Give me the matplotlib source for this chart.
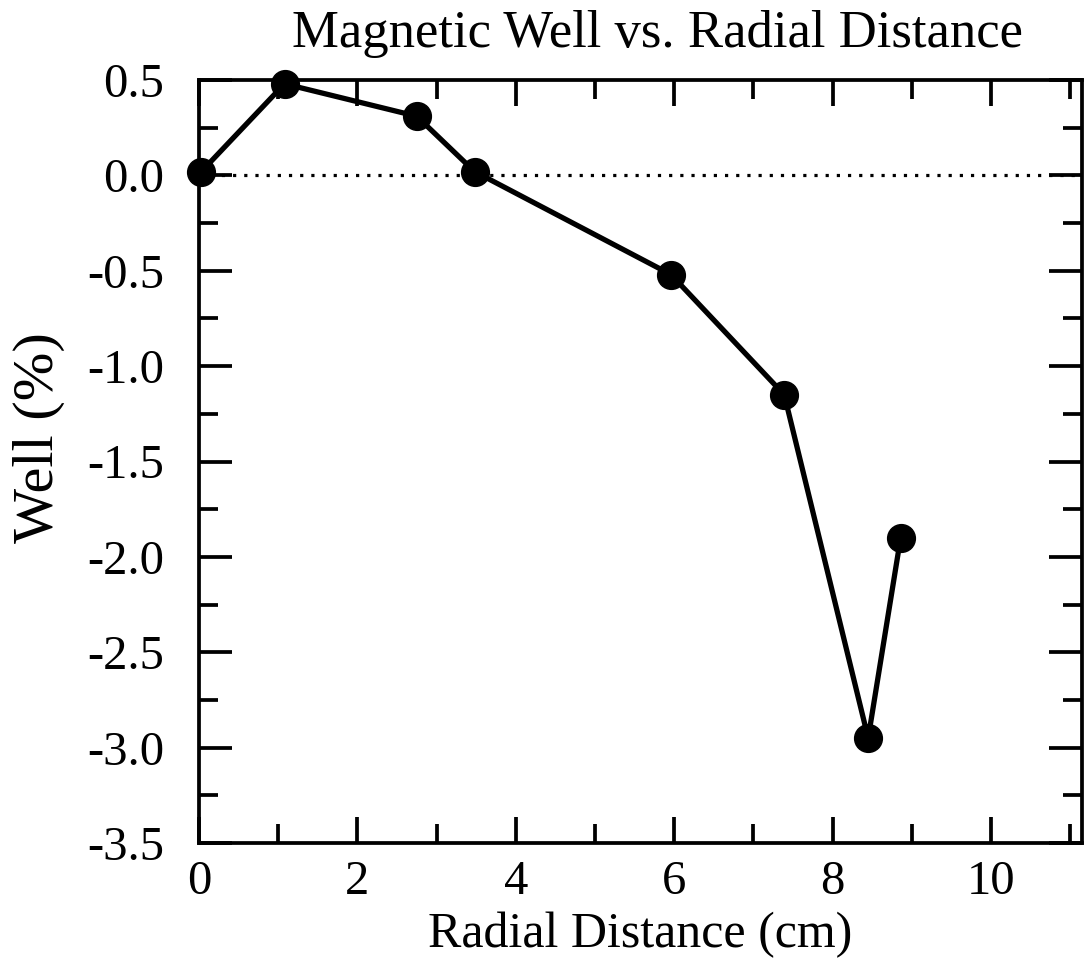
import matplotlib
matplotlib.use("Agg")
import matplotlib.pyplot as plt
from matplotlib.ticker import MultipleLocator

# Measured magnetic well depth at each radial position
radius_cm = [0.03, 1.08, 2.75, 3.48, 5.96, 7.39, 8.45, 8.86]
well_pct = [0.02, 0.48, 0.31, 0.02, -0.52, -1.15, -2.95, -1.90]

x_ticks = [0, 2, 4, 6, 8, 10]
y_ticks = [0.5, 0.0, -0.5, -1.0, -1.5, -2.0, -2.5, -3.0, -3.5]

plt.rcParams['font.family'] = ['Liberation Serif', 'DejaVu Serif']

fig = plt.figure(figsize=(10.84, 9.67), dpi=100)
ax = fig.add_axes([199 / 1084, 1 - 843 / 967, (1082 - 199) / 1084, (843 - 80) / 967])

ax.axhline(0.0, color='black', linestyle=(0, (1, 2.5)), linewidth=2.3, zorder=1)
ax.plot(radius_cm, well_pct, color='black', linewidth=3.8, marker='o',
        markersize=20, markerfacecolor='black', markeredgecolor='black', zorder=3,
        clip_on=False)

ax.set_xlim(0, 11.15)
ax.set_ylim(-3.5, 0.5)
ax.set_xticks(x_ticks)
ax.set_yticks(y_ticks)
ax.set_yticklabels([f"{v:.1f}" for v in y_ticks])
ax.xaxis.set_minor_locator(MultipleLocator(1))
ax.yaxis.set_minor_locator(MultipleLocator(0.25))

for side in ax.spines.values():
    side.set_linewidth(2.7)

ax.tick_params(which='both', direction='in', top=True, right=True, width=2.7,
               labelsize=35)
ax.tick_params(axis='y', which='major', length=24, pad=25)
ax.tick_params(axis='y', which='minor', length=14)
ax.tick_params(axis='x', which='major', length=19, pad=12)
ax.tick_params(axis='x', which='minor', length=14)

ax.set_title("Magnetic Well vs. Radial Distance", fontsize=38, x=0.519, pad=24)
ax.set_xlabel("Radial Distance (cm)", fontsize=36)
ax.xaxis.set_label_coords(0.5, -0.09)
ax.set_ylabel("Well (%)", fontsize=42)
ax.yaxis.set_label_coords(-0.152, 0.532)

fig.savefig("out.png", dpi=100)
